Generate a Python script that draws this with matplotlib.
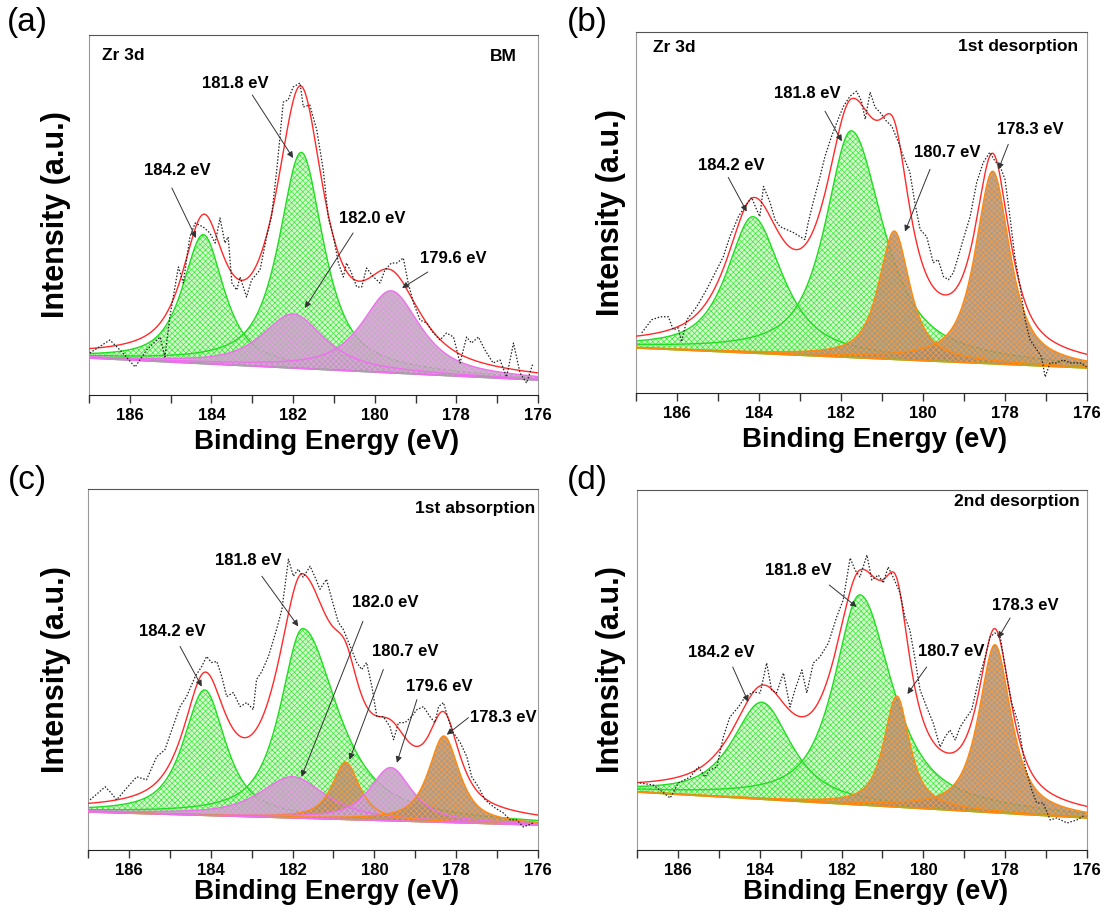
import numpy as np
import matplotlib
matplotlib.use("Agg")
import matplotlib.pyplot as plt
from matplotlib.ticker import MultipleLocator

plt.rcParams['font.family'] = ['Liberation Sans', 'DejaVu Sans']
plt.rcParams['font.weight'] = 'bold'
plt.rcParams['hatch.linewidth'] = 0.5

# ------------------------------------------------------------------ data
# (a) BM
a_energy = [186.98,186.49,186.24,185.87,185.59,185.26,185.14,185.02,184.81,184.69,184.53,184.40,184.20,184.04,
            183.91,183.79,183.67,183.59,183.50,183.38,183.30,183.14,183.02,182.81,182.65,182.53,182.40,182.24,
            182.12,182.00,181.83,181.75,181.59,181.42,181.26,181.14,181.01,180.89,180.77,180.69,180.57,180.44,
            180.32,180.20,180.03,179.87,179.75,179.59,179.46,179.30,179.18,179.05,178.89,178.73,178.56,178.40,
            178.24,178.07,177.91,177.75,177.63,177.46,177.30,177.10,176.93,176.77,176.60,176.44,176.28,176.12]
a_counts = [42,55,45,28,45,58,38,78,128,112,158,172,168,162,152,177,152,158,112,105,118,98,115,125,158,178,
            225,293,295,308,312,288,290,265,225,178,158,132,118,132,122,108,108,127,118,112,125,132,132,137,
            112,92,75,72,62,55,62,58,32,58,52,58,45,32,35,18,52,22,12,32]
a_base = [37, 15]
a_centers = [184.2, 181.8, 182.0, 179.6]
a_heights = [129, 216, 54, 82]
a_fwhm_hi = [1.2, 1.3, 1.8, 1.7]
a_fwhm_lo = [1.2, 1.3, 1.8, 1.7]
a_kinds = ['g', 'g', 'p', 'p']
a_labels = ['181.8 eV', '184.2 eV', '182.0 eV', '179.6 eV']

# (b) 1st desorption
b_energy = [186.86,186.62,186.41,186.21,186.09,185.97,185.89,185.76,185.52,185.28,185.03,184.87,184.71,184.50,
            184.34,184.18,184.06,183.98,183.89,183.73,183.61,183.49,183.33,183.16,183.00,182.88,182.80,182.68,
            182.51,182.39,182.23,182.07,181.94,181.78,181.62,181.50,181.41,181.29,181.17,181.05,180.89,180.76,
            180.60,180.48,180.32,180.20,180.07,179.91,179.75,179.63,179.50,179.38,179.26,179.14,179.02,178.85,
            178.69,178.53,178.37,178.24,178.12,178.00,177.88,177.76,177.63,177.51,177.39,177.27,177.11,177.02,
            176.90,176.74,176.58,176.41,176.17,176.01]
b_counts = [60,73,76,76,63,65,51,73,86,103,123,136,156,176,186,195,183,176,206,190,173,166,163,160,156,153,
            170,190,216,236,256,273,286,296,301,291,273,300,285,280,271,266,250,236,220,190,163,156,130,133,
            116,113,120,136,153,176,210,230,240,231,226,213,176,136,106,73,53,46,36,16,30,30,33,30,30,26]
b_base = [45, 25]
b_centers = [184.15, 181.75, 180.7, 178.3]
b_heights = [136, 226, 128, 192]
b_fwhm_hi = [1.5, 1.5, 0.9, 1.0]
b_fwhm_lo = [1.7, 1.85, 0.9, 1.0]
b_kinds = ['g', 'g', 'o', 'o']
b_labels = ['181.8 eV', '184.2 eV', '180.7 eV', '178.3 eV']

# (c) 1st absorption
c_energy = [186.95,186.58,186.46,186.30,186.05,185.81,185.57,185.32,185.12,184.95,184.75,184.59,184.38,184.22,
            184.10,183.98,183.85,183.73,183.61,183.45,183.28,183.12,182.96,182.88,182.75,182.59,182.39,182.26,
            182.10,181.98,181.86,181.74,181.57,181.45,181.33,181.17,181.04,180.88,180.76,180.59,180.43,180.31,
            180.19,180.06,179.94,179.78,179.62,179.53,179.41,179.25,179.09,178.96,178.80,178.64,178.52,178.43,
            178.31,178.19,178.07,177.90,177.74,177.62,177.46,177.29,177.09,176.85,176.68,176.52,176.36,176.11]
c_counts = [50,63,58,50,62,73,70,93,100,120,143,153,173,183,193,187,188,173,153,157,143,147,140,170,178,193,
            220,240,290,273,280,272,283,272,260,270,250,227,220,203,187,180,187,163,133,133,123,110,127,127,
            133,140,143,133,127,143,147,130,117,107,93,73,63,50,43,37,30,30,23,27]
c_base = [38, 25]
c_centers = [184.15, 181.75, 182.0, 180.7, 179.6, 178.3]
c_heights = [125, 189, 41, 57, 53, 86]
c_fwhm_hi = [1.22, 1.3, 1.9, 0.8, 1.22, 0.9]
c_fwhm_lo = [1.22, 2.0, 1.9, 0.8, 1.22, 0.9]
c_kinds = ['g', 'g', 'p', 'o', 'p', 'o']
c_labels = ['181.8 eV', '184.2 eV', '182.0 eV', '180.7 eV', '179.6 eV', '178.3 eV']

# (d) 2nd desorption
d_energy = [186.93,186.60,186.19,185.99,185.70,185.50,185.34,185.22,185.05,184.89,184.73,184.52,184.36,184.16,
            183.99,183.83,183.71,183.59,183.42,183.26,183.14,182.97,182.85,182.69,182.53,182.32,182.12,181.96,
            181.79,181.67,181.55,181.38,181.26,181.10,180.98,180.86,180.73,180.57,180.45,180.33,180.20,180.08,
            179.92,179.76,179.59,179.47,179.35,179.22,179.10,178.94,178.82,178.65,178.49,178.37,178.25,178.12,
            177.96,177.84,177.68,177.51,177.35,177.23,177.07,176.90,176.74,176.49,176.25,176.05]
d_counts = [67,65,52,67,73,83,73,80,83,113,133,143,153,158,157,187,160,157,177,143,160,180,157,187,193,207,
            233,250,292,280,273,295,270,275,267,283,272,257,233,220,190,160,143,127,103,113,120,110,123,133,
            140,170,193,213,217,213,173,147,127,83,60,47,47,30,32,27,30,35]
d_base = [58, 32]
d_centers = [183.95, 181.55, 180.65, 178.25]
d_heights = [97, 210, 111, 168]
d_fwhm_hi = [1.7, 1.5, 0.75, 0.94]
d_fwhm_lo = [1.7, 1.85, 0.75, 0.94]
d_kinds = ['g', 'g', 'o', 'o']
d_labels = ['181.8 eV', '184.2 eV', '180.7 eV', '178.3 eV']

panel_letters = ['(a)', '(b)', '(c)', '(d)']
corner_left = ['Zr 3d', 'Zr 3d', '', '']
corner_right = ['BM', '1st desorption', '1st absorption', '2nd desorption']
x_ticks = [186, 184, 182, 180, 178, 176]

# ------------------------------------------------------------------ layout / style
W, H = 1104, 913
axes_px = [(89, 35, 538, 395), (636, 32, 1087, 393), (88, 489, 538, 850), (637, 490, 1087, 850)]
ylabel_x = [-0.040, -0.022, -0.038, -0.024]
xlabel_y = [-0.095, -0.095, -0.08, -0.08]
letter_px = [(27, 22), (587, 22), (27, 480), (587, 480)]
corner_l_pos = [(0.029, 0.944), (0.038, 0.957), None, None]
corner_r_pos = [(0.953, 0.939), (0.981, 0.959), (0.993, 0.947), (0.984, 0.969)]
# text (E, v), arrow start (E, v), arrow tip (E, v)
annot_pos = [
    [(183.42, 312, 183.0, 300, 182.0, 237), (184.84, 225, 184.97, 207, 184.38, 157),
     (180.07, 177, 180.53, 162, 181.71, 87), (178.08, 137, 178.70, 123, 179.33, 107)],
    [(182.82, 299, 182.39, 281, 181.98, 251), (184.67, 227, 184.75, 215, 184.30, 181),
     (179.42, 240, 179.83, 223, 180.44, 161), (177.39, 263, 177.92, 248, 178.16, 223)],
    [(183.08, 289, 182.75, 273, 181.86, 223), (184.95, 218, 184.75, 203, 184.22, 163),
     (179.74, 247, 180.28, 228, 181.78, 73), (179.25, 198, 179.78, 180, 180.61, 90),
     (178.41, 163, 178.96, 150, 179.45, 87), (176.86, 132, 177.70, 132, 178.23, 115)],
    [(183.06, 280, 182.30, 265, 181.63, 243), (184.93, 198, 184.66, 183, 184.28, 148),
     (179.31, 199, 179.92, 183, 180.39, 156), (177.51, 245, 177.88, 232, 178.17, 212)],
]
STY = {
    'g': dict(face=(0.80, 0.97, 0.76, 0.80), hatch='#3cea3c', line='#22dd22', z=2),
    'p': dict(face=(0.72, 0.63, 0.71, 0.85), hatch='#eaa2ea', line='#ee70ee', z=3),
    'o': dict(face=(0.64, 0.54, 0.44, 0.85), hatch='#f5a050', line='#ff8a10', z=3),
}
ETA = 0.8

panels = [
    (a_energy, a_counts, a_base, a_centers, a_heights, a_fwhm_hi, a_fwhm_lo, a_kinds, a_labels),
    (b_energy, b_counts, b_base, b_centers, b_heights, b_fwhm_hi, b_fwhm_lo, b_kinds, b_labels),
    (c_energy, c_counts, c_base, c_centers, c_heights, c_fwhm_hi, c_fwhm_lo, c_kinds, c_labels),
    (d_energy, d_counts, d_base, d_centers, d_heights, d_fwhm_hi, d_fwhm_lo, d_kinds, d_labels),
]


def pseudo_voigt(x, c, h, w_hi, w_lo, eta=ETA):
    w = np.where(x >= c, w_hi, w_lo)
    g = np.exp(-4 * np.log(2) * ((x - c) / w) ** 2)
    l = 1.0 / (1.0 + 4 * ((x - c) / w) ** 2)
    return h * (eta * l + (1 - eta) * g)


fig = plt.figure(figsize=(W / 100, H / 100), dpi=100)
xg = np.linspace(176, 187, 900)

for i, (en, cnt, base, cen, hei, fwh, fwl, kinds, labels) in enumerate(panels):
    x0, y0, x1, y1 = axes_px[i]
    ax = fig.add_axes([x0 / W, 1 - y1 / H, (x1 - x0) / W, (y1 - y0) / H])
    bl = np.interp(xg, [176, 187], [base[1], base[0]])
    total = bl.copy()
    order = sorted(range(len(cen)), key=lambda k: STY[kinds[k]]['z'])
    for k in order:
        s = STY[kinds[k]]
        pk = pseudo_voigt(xg, cen[k], hei[k], fwh[k], fwl[k])
        total += pk
        ax.fill_between(xg, bl, bl + pk, facecolor=s['face'], edgecolor=s['hatch'],
                        hatch='xxxxxx', linewidth=0, zorder=s['z'])
        ax.plot(xg, bl + pk, color=s['line'], lw=1.0, zorder=s['z'] + 0.1)
    for kk in sorted(set(kinds)):
        ax.plot(xg, bl, color=STY[kk]['line'], lw=1.2, zorder=4)
    ax.plot(xg, total, color='#ff2a2a', lw=1.0, zorder=5)
    ax.plot(en, cnt, color='#222222', lw=0.9, ls=(0, (1.2, 1.4)), zorder=6)

    for lab, (tx, ty, sx, sy, px, py) in zip(labels, annot_pos[i]):
        ax.text(tx, ty, lab, ha='center', va='center', fontsize=12, fontweight='bold', zorder=8)
        ax.annotate('', xy=(px, py), xytext=(sx, sy),
                    arrowprops=dict(arrowstyle='-|>', color='#333333', lw=0.7,
                                    mutation_scale=9, shrinkA=0, shrinkB=0), zorder=8)

    if corner_left[i]:
        ax.text(*corner_l_pos[i], corner_left[i], transform=ax.transAxes, ha='left', va='center',
                fontsize=12.5, fontweight='bold')
    ax.text(*corner_r_pos[i], corner_right[i], transform=ax.transAxes, ha='right', va='center',
            fontsize=12.5, fontweight='bold')

    ax.set_xlim(187, 176)
    ax.set_ylim(0, 360)
    ax.set_yticks([])
    ax.set_xticks(x_ticks)
    ax.xaxis.set_minor_locator(MultipleLocator(1))
    ax.tick_params(axis='x', which='both', direction='out', length=6, width=1, color='#333333',
                   labelsize=12, pad=3)
    for t in ax.get_xticklabels():
        t.set_fontweight('bold')
    ax.spines['left'].set_color('#999999')
    ax.spines['right'].set_color('#999999')
    ax.spines['top'].set_color('#555555')
    ax.spines['bottom'].set_color('#222222')
    ax.set_xlabel('Binding Energy (eV)', fontsize=20, fontweight='bold')
    ax.xaxis.set_label_coords(0.53, xlabel_y[i])
    ax.set_ylabel('Intensity (a.u.)', fontsize=22, fontweight='bold')
    ax.yaxis.set_label_coords(ylabel_x[i], 0.5)

    lx, ly = letter_px[i]
    fig.text(lx / W, 1 - ly / H, panel_letters[i], ha='center', va='center', fontsize=24,
             fontweight='normal')

fig.savefig('out.png', dpi=100)
